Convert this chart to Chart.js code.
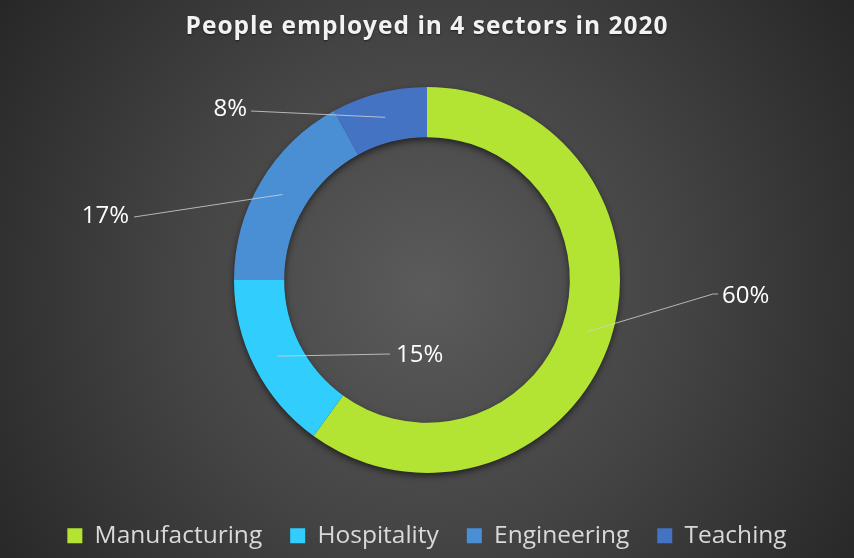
<!DOCTYPE html>
<html>
<head>
<meta charset="utf-8">
<script src="https://cdn.jsdelivr.net/npm/chart.js@4"></script>
<style>
html,body{margin:0;padding:0;background:#333;}
#wrap{width:854px;height:558px;}
</style>
</head>
<body>
<div id="wrap"><canvas id="c" width="854" height="558"></canvas></div>
<script>
const categories = ['Manufacturing', 'Hospitality', 'Engineering', 'Teaching'];
const values = [60, 15, 17, 8];
const colors = ['#b3e333', '#31cdfd', '#4a8fd3', '#4573c4'];
const titleText = 'People employed in 4 sectors in 2020';

const bgPlugin = {
  id: 'bg',
  beforeDraw(chart) {
    const ctx = chart.ctx;
    const w = chart.width, h = chart.height;
    const g = ctx.createRadialGradient(427, 290, 0, 427, 290, 560);
    g.addColorStop(0, '#5b5b5b');
    g.addColorStop(0.45, '#444444');
    g.addColorStop(1, '#222222');
    ctx.save();
    ctx.fillStyle = g;
    ctx.fillRect(0, 0, w, h);
    ctx.restore();
    const tb = chart.titleBlock;
    if (tb && !tb._spaced) {
      const orig = tb.draw.bind(tb);
      tb.draw = function () {
        const c = this.ctx;
        const prev = c.letterSpacing;
        c.save();
        c.letterSpacing = '1px';
        c.shadowColor = 'rgba(0,0,0,0.5)';
        c.shadowBlur = 2;
        c.shadowOffsetY = 1;
        orig();
        c.restore();
        c.letterSpacing = prev || '0px';
      };
      tb._spaced = true;
    }
  }
};

const shadowPlugin = {
  id: 'ringShadow',
  beforeDatasetsDraw(chart) {
    const meta = chart.getDatasetMeta(0);
    if (!meta.data.length) return;
    const p = meta.data[0].getProps(['x', 'y', 'innerRadius', 'outerRadius'], true);
    const ctx = chart.ctx;
    ctx.save();
    ctx.shadowColor = 'rgba(0,0,0,0.6)';
    ctx.shadowBlur = 7;
    ctx.shadowOffsetX = 0;
    ctx.shadowOffsetY = 3;
    ctx.fillStyle = '#3a3a3a';
    ctx.beginPath();
    ctx.arc(p.x, p.y, p.outerRadius - 0.5, 0, Math.PI * 2, false);
    ctx.arc(p.x, p.y, p.innerRadius + 0.5, 0, Math.PI * 2, true);
    ctx.closePath();
    ctx.fill();
    ctx.restore();
  }
};

const labelPlugin = {
  id: 'leaderLabels',
  afterDatasetsDraw(chart, args, opts) {
    const ctx = chart.ctx;
    const meta = chart.getDatasetMeta(0);
    const total = values.reduce((a, b) => a + b, 0);
    meta.data.forEach((arc, i) => {
      const p = arc.getProps(['x', 'y', 'startAngle', 'endAngle', 'innerRadius', 'outerRadius'], true);
      const mid = (p.startAngle + p.endAngle) / 2;
      const r = (p.innerRadius + p.outerRadius) / 2;
      const sx = p.x + Math.cos(mid) * r;
      const sy = p.y + Math.sin(mid) * r;
      const L = opts.items[i];
      ctx.save();
      ctx.strokeStyle = 'rgba(210,210,210,0.8)';
      ctx.lineWidth = 1;
      ctx.beginPath();
      ctx.moveTo(sx, sy);
      ctx.lineTo(L.end[0], L.end[1]);
      if (L.tail) ctx.lineTo(L.tail[0], L.tail[1]);
      ctx.stroke();
      ctx.fillStyle = '#ffffff';
      ctx.font = '24px "Open Sans", sans-serif';
      ctx.textBaseline = 'middle';
      ctx.textAlign = L.align;
      ctx.fillText(Math.round(values[i] / total * 100) + '%', L.text[0], L.text[1]);
      ctx.restore();
    });
  }
};

new Chart(document.getElementById('c'), {
  type: 'doughnut',
  data: {
    labels: categories,
    datasets: [{
      data: values,
      backgroundColor: colors,
      borderWidth: 0,
      radius: 193,
      cutout: '74%'
    }]
  },
  options: {
    responsive: false,
    animation: false,
    events: [],
    layout: { padding: 0 },
    plugins: {
      title: {
        display: true,
        text: titleText,
        color: '#f2f2f2',
        font: { family: '"Open Sans", sans-serif', size: 24.5, weight: 'bold' },
        padding: { top: 12, bottom: 23 }
      },
      legend: {
        display: true,
        position: 'bottom',
        labels: {
          color: '#d9d9d9',
          font: { family: '"Open Sans", sans-serif', size: 24.5 },
          boxWidth: 15,
          boxHeight: 15,
          padding: 28
        }
      },
      tooltip: { enabled: false },
      leaderLabels: {
        items: [
          { end: [713, 294], tail: [718, 294], text: [722, 296], align: 'left' },
          { end: [390, 354], text: [396, 355], align: 'left' },
          { end: [134, 217], text: [129, 216], align: 'right' },
          { end: [251, 111], text: [247, 109], align: 'right' }
        ]
      }
    }
  },
  plugins: [bgPlugin, shadowPlugin, labelPlugin]
});
</script>
</body>
</html>
